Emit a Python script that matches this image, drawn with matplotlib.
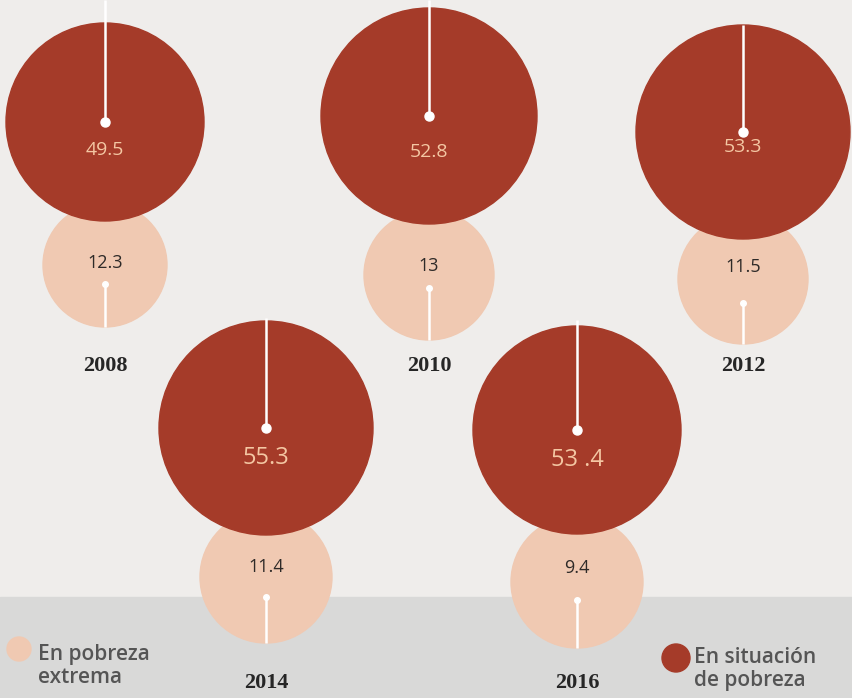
import matplotlib

matplotlib.use("Agg")
import matplotlib.pyplot as plt
from matplotlib.patches import Circle, Rectangle

# data
YEARS = ["2008", "2010", "2012", "2014", "2016"]
POBREZA = [49.5, 52.8, 53.3, 55.3, 53.4]
POBREZA_TXT = ["49.5", "52.8", "53.3", "55.3", "53 .4"]
EXTREMA = [12.3, 13, 11.5, 11.4, 9.4]
EXTREMA_TXT = ["12.3", "13", "11.5", "11.4", "9.4"]
LEGEND = ["En pobreza\nextrema", "En situación\nde pobreza"]

# layout (pixels, y downwards): cx, big cy, big r, small cy, small r, line top,
# big label dy, small label y, small dot y, year y, big label size
LAYOUT = [
    (105, 122, 99, 265, 62, 0, 28, 263, 284, 366, 14),
    (429, 116, 108, 275, 65, 0, 36, 266, 288, 366, 14),
    (743, 132, 107, 279, 65, 25, 15, 267, 303, 366, 14),
    (266, 428, 107, 577, 66, 318, 30, 567, 597, 683, 17),
    (577, 430, 104, 582, 66, 320, 30, 568, 600, 683, 17),
]

DARK = "#a53b29"
LIGHT = "#f0c9b2"
PEACH_TXT = "#f4c7a3"
BG = "#efedeb"
BAND = "#d9d9d8"

NUM_FONT = ["Liberation Sans Narrow", "Open Sans", "DejaVu Sans"]

fig = plt.figure(figsize=(8.52, 6.98), dpi=100)
fig.patch.set_facecolor(BG)
ax = fig.add_axes([0, 0, 1, 1])
ax.set_xlim(0, 852)
ax.set_ylim(698, 0)
ax.set_aspect("equal")
ax.axis("off")

# grey band at the bottom of the page
ax.add_patch(Rectangle((0, 597), 852, 101, color=BAND, zorder=0))

for i, year in enumerate(YEARS):
    cx, cy, rb, sy, rs, ltop, ldy, sly, sdot, yy, fs = LAYOUT[i]
    # extreme poverty circle sits behind the big one
    ax.add_patch(Circle((cx, sy), rs, color=LIGHT, zorder=1))
    ax.plot([cx, cx], [sdot, sy + rs], color="white", lw=1.8, zorder=2,
            solid_capstyle="butt")
    ax.plot(cx, sdot, "o", color="white", ms=4, zorder=2)
    ax.text(cx, sly, EXTREMA_TXT[i], ha="center", va="center", fontsize=13,
            color="#2e2a28", family=NUM_FONT, zorder=5)

    ax.add_patch(Circle((cx, cy), rb, color=DARK, zorder=3))
    ax.plot([cx, cx], [ltop, cy], color="white", lw=1.8, zorder=4,
            solid_capstyle="butt")
    ax.plot(cx, cy, "o", color="white", ms=6.5, zorder=4)
    ax.text(cx, cy + ldy, POBREZA_TXT[i], ha="center", va="center", fontsize=fs,
            color=PEACH_TXT, family=NUM_FONT, zorder=5)

    ax.text(cx, yy, year, ha="center", va="center", fontsize=16,
            fontweight="bold", color="#262626", family="Liberation Serif")

# legend
ax.add_patch(Circle((19, 649), 12, color=LIGHT, zorder=3))
ax.text(38, 666, LEGEND[0], ha="left", va="center", fontsize=15,
        fontweight="semibold", color="#555555", family="Open Sans",
        linespacing=1.15)
ax.add_patch(Circle((676, 658), 14, color=DARK, zorder=3))
ax.text(694, 669, LEGEND[1], ha="left", va="center", fontsize=15,
        fontweight="semibold", color="#555555", family="Open Sans",
        linespacing=1.15)

fig.savefig("out.png", dpi=100, facecolor=BG)
